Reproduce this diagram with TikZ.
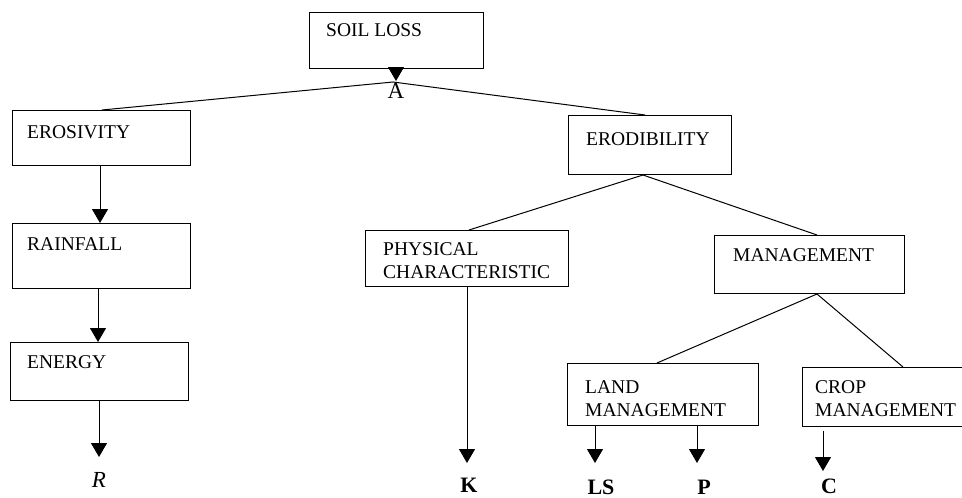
\documentclass[tikz,border=0pt]{standalone}
\usepackage{fontspec}
\setmainfont{Liberation Serif}
\usetikzlibrary{arrows.meta}
\tikzset{
 box/.style={draw, line width=1pt, anchor=north west, inner sep=0pt},
 txt/.style={anchor=north west, inner sep=0pt, align=left, font=\fontsize{19.5}{23.5}\selectfont},
 lbl/.style={anchor=north, inner sep=0pt, font=\fontsize{23}{27}\selectfont},
 link/.style={line width=1pt},
 arr/.style={line width=1pt, -{Triangle[length=14pt,width=16pt]}},
}
\begin{document}
\begin{tikzpicture}[x=1pt,y=-1pt]
\useasboundingbox (0,0) rectangle (962,498);
% boxes
\node[box, minimum width=174pt, minimum height=56pt] (soil)   at (309,12)  {};
\node[box, minimum width=178pt, minimum height=55pt] (erosiv) at (12,110)  {};
\node[box, minimum width=178pt, minimum height=65pt] (rain)   at (12,223)  {};
\node[box, minimum width=178pt, minimum height=58pt] (energy) at (10,342)  {};
\node[box, minimum width=163pt, minimum height=59pt] (erodib) at (568,115) {};
\node[box, minimum width=203pt, minimum height=56pt] (phys)   at (365,230) {};
\node[box, minimum width=190pt, minimum height=58pt] (manage) at (714,235) {};
\node[box, minimum width=191pt, minimum height=62pt] (land)   at (567,363) {};
\node[box, minimum width=164pt, minimum height=59pt] (crop)   at (802,367) {};
% box texts
\node[txt] (soilT)   at ([shift={(17pt,-11pt)}]soil.north west)   {SOIL LOSS};
\node[txt] (erosivT) at ([shift={(15pt,-15pt)}]erosiv.north west) {EROSIVITY};
\node[txt] (rainT)   at ([shift={(15pt,-14pt)}]rain.north west)   {RAINFALL};
\node[txt] (energyT) at ([shift={(17pt,-13pt)}]energy.north west) {ENERGY};
\node[txt] (erodibT) at ([shift={(18pt,-17pt)}]erodib.north west) {ERODIBILITY};
\node[txt] (physT)   at ([shift={(18pt,-12pt)}]phys.north west)   {PHYSICAL\\CHARACTERISTIC};
\node[txt] (manageT) at ([shift={(19pt,-13pt)}]manage.north west) {MANAGEMENT};
\node[txt] (landT)   at ([shift={(18pt,-17pt)}]land.north west)   {LAND\\MANAGEMENT};
\node[txt] (cropT)   at ([shift={(13pt,-13pt)}]crop.north west)   {CROP\\MANAGEMENT};
% labels
\node[lbl] (Alab) at (396,83) {A};
\node[lbl, font=\fontsize{23}{27}\selectfont\itshape] (R) at (99,472) {R};
\node[lbl, font=\fontsize{22}{26}\selectfont\bfseries] (K) at (469,478) {K};
\node[lbl, font=\fontsize{22}{26}\selectfont\bfseries] (LS) at (601,480) {LS};
\node[lbl, font=\fontsize{22}{26}\selectfont\bfseries] (P) at (704,480) {P};
\node[lbl, font=\fontsize{22}{26}\selectfont\bfseries] (C) at (829,479) {C};
% top junction
\coordinate (Aj) at ([xshift=84pt,yshift=-13pt]soil.south west);
\draw[arr] ([xshift=87pt]soil.south west) -- ++(0pt,-12pt);
\draw[link] ([xshift=90pt]erosiv.north west) -- (Aj) -- ([xshift=77pt]erodib.north west);
% left column
\draw[arr] ([xshift=88pt]erosiv.south west) -- ([xshift=88pt]rain.north west);
\draw[arr] ([xshift=86pt]rain.south west) -- ([xshift=88pt]energy.north west);
\draw[arr, shorten >=15pt] (energy.south -| R.north) -- (R.north);
% erodibility branch
\draw[link] ([xshift=104pt]phys.north west) -- ([xshift=75pt]erodib.south west) -- ([xshift=103pt]manage.north west);
\draw[arr, shorten >=15pt] (phys.south) -- (phys.south |- K.north);
% management branch
\draw[link] ([xshift=90pt]land.north west) -- ([xshift=103pt]manage.south west) -- ([xshift=101pt]crop.north west);
\draw[arr, shorten >=17pt] ([xshift=28pt]land.south west) -- ([xshift=28pt]land.south west |- LS.north);
\draw[arr, shorten >=17pt] ([xshift=130pt]land.south west) -- ([xshift=130pt]land.south west |- P.north);
\draw[arr, shorten <=4pt, shorten >=8pt] ([xshift=21pt]crop.south west) -- ([xshift=21pt]crop.south west |- C.north);
\end{tikzpicture}
\end{document}
